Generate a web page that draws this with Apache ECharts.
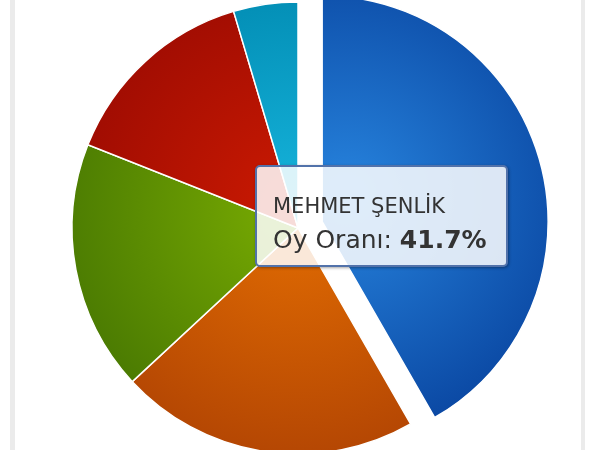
<!DOCTYPE html>
<html>
<head>
<meta charset="utf-8">
<script src="https://cdn.jsdelivr.net/npm/echarts@6/dist/echarts.min.js"></script>
<style>
html,body{margin:0;padding:0;background:#fff;}
#chart{width:600px;height:450px;}
</style>
</head>
<body>
<div id="chart"></div>
<script>
// Data
const candidates = ['MEHMET ŞENLİK', 'Aday 2', 'Aday 3', 'Aday 4', 'Aday 5'];
const voteShares = [41.7, 21.4, 17.9, 14.4, 4.6];
const tooltipLabel = 'Oy Oranı';
const explodedIndex = 0;

// Palette (light centre, dark rim)
const lightColors = ['#2784de', '#e46e02', '#7aad02', '#cc1a02', '#16b4dc'];
const darkColors  = ['#0a47a2', '#b54703', '#4a7a02', '#9c0b02', '#0089b0'];

const cx = 298, cy = 228, R = 226, offset = 25;

const chart = echarts.init(document.getElementById('chart'));

// middle angle of exploded slice for gradient centre shift
const total = voteShares.reduce((a, b) => a + b, 0);
let acc = 0, midAng = 0;
for (let i = 0; i < voteShares.length; i++) {
  if (i === explodedIndex) midAng = (acc + voteShares[i] / 2) / total * 2 * Math.PI;
  acc += voteShares[i];
}
const dx = Math.sin(midAng) * offset, dy = -Math.cos(midAng) * offset;

const data = candidates.map((name, i) => {
  const gx = cx + (i === explodedIndex ? dx : 0);
  const gy = cy - 20 + (i === explodedIndex ? dy : 0);
  return {
    name: name,
    value: voteShares[i],
    selected: i === explodedIndex,
    itemStyle: {
      color: {
        type: 'radial', x: gx, y: gy, r: R + 20, global: true,
        colorStops: [{offset: 0, color: lightColors[i]}, {offset: 1, color: darkColors[i]}]
      }
    }
  };
});

chart.setOption({
  animation: false,
  backgroundColor: '#fff',
  tooltip: {
    trigger: 'item',
    alwaysShowContent: true,
    triggerOn: 'none',
    transitionDuration: 0,
    position: [255, 165],
    backgroundColor: 'rgba(255,255,255,0.85)',
    borderColor: '#5272aa',
    borderWidth: 2,
    padding: [24, 16, 7, 16],
    extraCssText: 'box-sizing:border-box;width:253px;height:102px;border-radius:5px;box-shadow:1px 1px 3px rgba(0,0,0,0.35);',
    formatter: function (p) {
      return '<div style="font-family:\'DejaVu Sans\';color:#333;white-space:nowrap;">' +
        '<div style="font-size:21px;line-height:30px;">' + p.name + '</div>' +
        '<div style="font-size:25px;line-height:37px;">' + tooltipLabel + ': <b>' + p.percent.toFixed(1) + '%</b></div>' +
        '</div>';
    }
  },
  graphic: [
    {type: 'rect', shape: {x: 10, y: 0, width: 5, height: 450}, style: {fill: '#ebebeb'}, silent: true},
    {type: 'rect', shape: {x: 581, y: 0, width: 4, height: 450}, style: {fill: '#ebebeb'}, silent: true}
  ],
  series: [{
    type: 'pie',
    center: [cx, cy],
    radius: R,
    startAngle: 90,
    clockwise: true,
    selectedMode: 'single',
    selectedOffset: offset,
    label: {show: false},
    labelLine: {show: false},
    itemStyle: {borderColor: '#ffffff', borderWidth: 1.5},
    emphasis: {disabled: true},
    select: {itemStyle: {borderColor: '#ffffff', borderWidth: 1.5}},
    data: data
  }]
});

chart.dispatchAction({type: 'showTip', seriesIndex: 0, dataIndex: explodedIndex});
</script>
</body>
</html>
